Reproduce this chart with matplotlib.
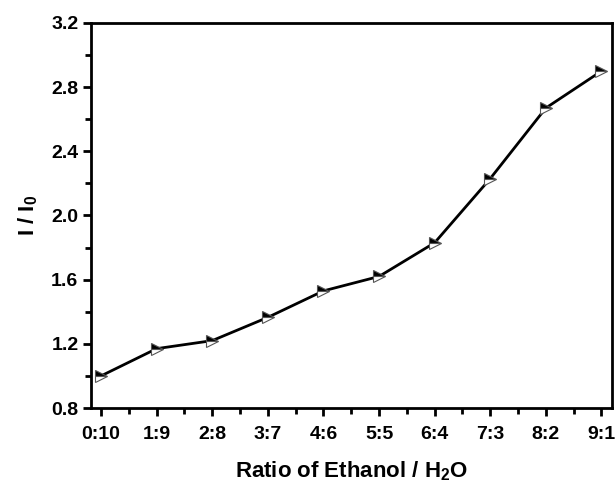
import numpy as np
import matplotlib.pyplot as plt
from matplotlib.ticker import MultipleLocator

ratios = ['0:10', '1:9', '2:8', '3:7', '4:6', '5:5', '6:4', '7:3', '8:2', '9:1']
intensity = [1.00, 1.17, 1.22, 1.365, 1.53, 1.62, 1.83, 2.23, 2.67, 2.90]

plt.rcParams['font.family'] = ['Liberation Sans', 'DejaVu Sans']
plt.rcParams['font.weight'] = 'bold'
plt.rcParams['mathtext.fontset'] = 'custom'
plt.rcParams['mathtext.rm'] = 'Liberation Sans:bold'
plt.rcParams['mathtext.default'] = 'rm'

fig = plt.figure(figsize=(6.16, 4.87), dpi=100)
ax = fig.add_axes([0.1477, 0.1622, 0.8458, 0.7906])

x = np.arange(len(ratios))
ax.plot(x, intensity, color='black', linewidth=2,
        marker='>', markersize=8, fillstyle='top',
        markerfacecolor='black', markerfacecoloralt='white',
        markeredgecolor='#555555', markeredgewidth=0.8)

ax.set_xlim(-0.18, 9.19)
ax.set_ylim(0.8, 3.2)
ax.set_xticks(x)
ax.set_xticklabels(ratios)
ax.xaxis.set_minor_locator(MultipleLocator(0.5))
ax.yaxis.set_major_locator(MultipleLocator(0.4))
ax.yaxis.set_minor_locator(MultipleLocator(0.2))
ax.set_yticklabels([f'{v:.1f}' for v in ax.get_yticks()])

for s in ax.spines.values():
    s.set_linewidth(2)
ax.tick_params(which='major', direction='out', length=6, width=2, labelsize=14)
ax.tick_params(which='minor', direction='out', length=4, width=2)
ax.tick_params(axis='x', pad=7)
ax.tick_params(axis='y', pad=3)

ax.set_xlabel(r'Ratio of Ethanol / H$_2$O', fontsize=16, fontweight='bold', labelpad=12)
ax.set_ylabel(r'I / I$_0$', fontsize=16, fontweight='bold', labelpad=8)

fig.savefig('out.png', dpi=100)
